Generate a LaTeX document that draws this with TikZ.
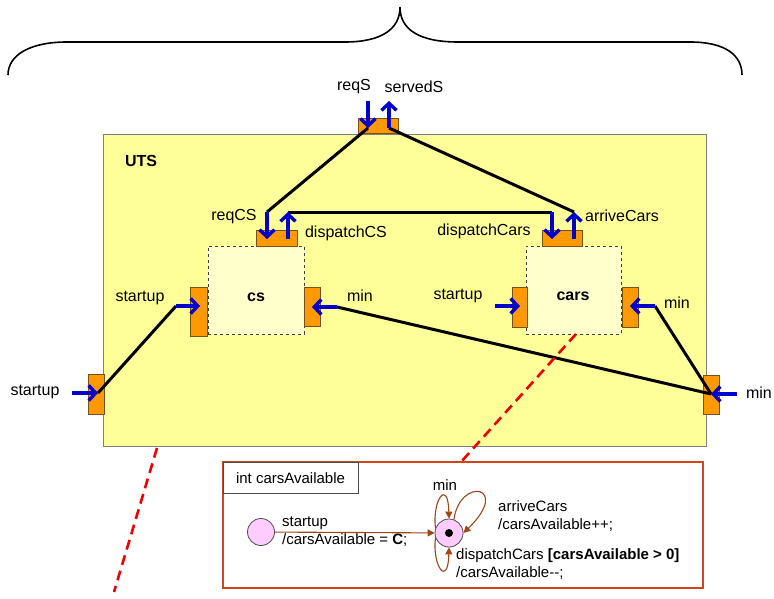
\documentclass[tikz,border=0pt]{standalone}
\usepackage{fontspec}
\setmainfont{Liberation Sans}
\usetikzlibrary{arrows.meta}
\definecolor{portor}{RGB}{255,153,0}
\definecolor{portbd}{RGB}{120,80,30}
\definecolor{utsfill}{RGB}{255,255,153}
\definecolor{csfill}{RGB}{255,255,204}
\definecolor{arrblue}{RGB}{0,0,204}
\definecolor{smbrown}{RGB}{160,70,25}
\definecolor{smborder}{RGB}{210,70,20}
\definecolor{statefill}{RGB}{255,204,255}
\definecolor{reddash}{RGB}{240,0,0}
\begin{document}
\begin{tikzpicture}[x=1pt,y=-1pt,
  lbl/.style={inner sep=0pt, font=\fontsize{16}{19}\selectfont},
  smlbl/.style={inner sep=0pt, font=\fontsize{15}{18}\selectfont, align=left, anchor=west},
  port/.style={draw=portbd, fill=portor, line width=0.8pt, inner sep=0pt, outer sep=0pt},
  bluearr/.style={draw=arrblue, line width=3.4pt, -{Straight Barb[length=7pt,width=15pt]}},
  wire/.style={draw=black, line width=3pt},
  trans/.style={draw=smbrown, line width=1.1pt, -{Triangle[length=7pt,width=7pt]}},
  reddsh/.style={draw=reddash, line width=2.6pt, dash pattern=on 10pt off 6pt},
  compbox/.style={draw=black!75, dashed, fill=csfill, line width=0.8pt, inner sep=0pt, outer sep=0pt}
]
\useasboundingbox (0,0) rectangle (774,599);

% brace
\draw[line width=1.6pt] (8,75) .. controls (8,55) and (30,42) .. (67,42) -- (345,42)
  .. controls (380,42) and (400,30) .. (400,7)
  .. controls (400,30) and (420,42) .. (458,42) -- (690,42)
  .. controls (725,42) and (742,55) .. (742,75);

% UTS box
\node[draw=black!50, fill=utsfill, line width=0.8pt, minimum width=603pt, minimum height=312pt, inner sep=0pt] (uts) at (404.5,290) {};
\node[lbl, font=\fontsize{16}{19}\selectfont\bfseries] (utslbl) at (141,161) {UTS};

% components
\node[compbox, minimum width=96pt, minimum height=88pt] (cs) at (256,290) {};
\node[lbl, font=\fontsize{16}{19}\selectfont\bfseries] (cslbl) at (256,297) {cs};
\node[compbox, minimum width=95pt, minimum height=88pt] (cars) at (573.5,290) {};
\node[lbl, font=\fontsize{16}{19}\selectfont\bfseries] (carslbl) at (573,296) {cars};

% ports
\node[port, minimum width=40pt, minimum height=15pt] (tp) at (378,125.5) {};
\node[port, minimum width=41pt, minimum height=16pt] (csT) at (276.5,238) {};
\node[port, minimum width=17pt, minimum height=49pt] (csL) at (198.5,311.5) {};
\node[port, minimum width=16pt, minimum height=39pt] (csR) at (312,306.5) {};
\node[port, minimum width=40pt, minimum height=16pt] (carsT) at (562,238) {};
\node[port, minimum width=15pt, minimum height=40pt] (carsL) at (519.5,307) {};
\node[port, minimum width=16pt, minimum height=40pt] (carsR) at (630,307) {};
\node[port, minimum width=16pt, minimum height=40pt] (outL) at (96,394) {};
\node[port, minimum width=16pt, minimum height=39pt] (outR) at (711,394.5) {};

% arrow end coordinates
\coordinate (reqSa) at (368,101);   \coordinate (reqSb) at (368,128);
\coordinate (srvSa) at (389,128);   \coordinate (srvSb) at (389,101);
\coordinate (reqCSa) at (267,212);  \coordinate (reqCSb) at (267,239);
\coordinate (dCSa) at (288,239);    \coordinate (dCSb) at (288,212);
\coordinate (dCarsa) at (552,212);  \coordinate (dCarsb) at (552,239);
\coordinate (arrCa) at (574,239);   \coordinate (arrCb) at (574,212);
\coordinate (csSta) at (176,306);   \coordinate (csStb) at (200,306);
\coordinate (csMina) at (337,307);  \coordinate (csMinb) at (312,307);
\coordinate (caSta) at (495,306);   \coordinate (caStb) at (520,306);
\coordinate (caMina) at (655,306);  \coordinate (caMinb) at (630,306);
\coordinate (oSta) at (72,393);     \coordinate (oStb) at (98,393);
\coordinate (oMina) at (737,394);   \coordinate (oMinb) at (711,394);

% wires
\draw[wire] (reqSb) -- (reqCSa);
\draw[wire] (srvSa) -- (arrCb);
\draw[wire] (dCSb) -- (dCarsa);
\draw[wire] (oStb) -- (csSta);
\draw[wire] (csMina) -- (oMinb);
\draw[wire] (caMina) -- (oMinb);

% blue arrows
\draw[bluearr] (reqSa) -- (reqSb);
\draw[bluearr] (srvSa) -- (srvSb);
\draw[bluearr] (reqCSa) -- (reqCSb);
\draw[bluearr] (dCSa) -- (dCSb);
\draw[bluearr] (dCarsa) -- (dCarsb);
\draw[bluearr] (arrCa) -- (arrCb);
\draw[bluearr] (csSta) -- (csStb);
\draw[bluearr] (csMina) -- (csMinb);
\draw[bluearr] (caSta) -- (caStb);
\draw[bluearr] (caMina) -- (caMinb);
\draw[bluearr] (oSta) -- (oStb);
\draw[bluearr] (oMina) -- (oMinb);

% labels
\node[lbl] (lreqS) at (354,87) {reqS};
\node[lbl] (lsrvS) at (414,87) {servedS};
\node[lbl] (lreqCS) at (234,217) {reqCS};
\node[lbl] (ldCS) at (346,233) {dispatchCS};
\node[lbl] (ldCars) at (484,231) {dispatchCars};
\node[lbl] (larrC) at (622,216) {arriveCars};
\node[lbl] (lcsSt) at (140,298) {startup};
\node[lbl] (lcsMin) at (360,296) {min};
\node[lbl] (lcaSt) at (458,296) {startup};
\node[lbl] (lcaMin) at (677,303) {min};
\node[lbl] (loSt) at (35,392) {startup};
\node[lbl] (loMin) at (759,393) {min};

% red dashed lines
\coordinate (rd1a) at (157,448); \coordinate (rd1b) at (114,592);
\coordinate (rd2a) at (576,334); \coordinate (rd2b) at (461,462);
\draw[reddsh] (rd1a) -- (rd1b);
\draw[reddsh] (rd2a) -- (rd2b);

% state machine
\node[draw=smborder, fill=white, line width=2pt, minimum width=480pt, minimum height=126pt, inner sep=0pt] (sm) at (463,525) {};
\node[draw=black!70, fill=white, line width=0.8pt, minimum width=135pt, minimum height=31pt, inner sep=0pt] (tab) at (290.5,477.5) {};
\node[inner sep=0pt, font=\fontsize{15}{18}\selectfont] (tablbl) at (290.5,478) {int carsAvailable};

\node[circle, draw=black!70, fill=statefill, line width=0.8pt, minimum size=27pt, inner sep=0pt] (init) at (261,532) {};
\node[circle, draw=black!70, fill=statefill, line width=0.8pt, minimum size=28pt, inner sep=0pt] (st) at (449,533) {};
\fill (st.center) circle (4pt);

\draw[trans] (init) -- (st);
\draw[trans] (st.160) .. controls (432,500) and (448,478) .. (st.north);
\draw[trans] (st.70) .. controls (460,476) and (512,486) .. (st.east);
\draw[trans] (st.200) .. controls (432,566) and (448,588) .. (st.south);

\node[smlbl] (trlbl1) at (282,532) {startup\\/carsAvailable = \textbf{C};};
\node[inner sep=0pt, font=\fontsize{15}{18}\selectfont] (trmin) at (445,485) {min};
\node[smlbl] (trlbl2) at (498,516) {arriveCars\\/carsAvailable++;};
\node[smlbl] (trlbl3) at (456,564) {dispatchCars \textbf{[carsAvailable > 0]}\\/carsAvailable-{}-;};
\end{tikzpicture}
\end{document}
